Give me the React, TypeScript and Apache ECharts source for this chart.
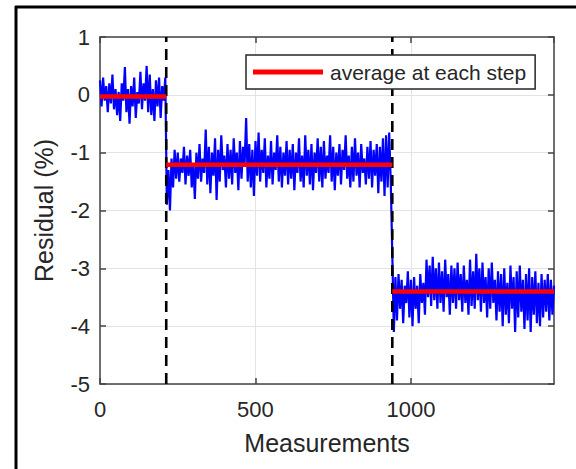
import React, { useEffect, useRef } from "react";
import * as echarts from "echarts";

// ---- data ----
const STEP = 5; // spacing of the sampled measurements
const SEG_STARTS = [0, 215, 940];
const SEG1 = [0.25, -0.2, 0.3, -0.1, 0.15, -0.3, 0.2, -0.15, 0.35, -0.25, 0.1, -0.35, 0.05, -0.45, 0.2, -0.1, 0.48, -0.3, 0.1, -0.5, 0.15, -0.2, 0.3, -0.4, 0.05, -0.15, 0.4, -0.25, 0.2, -0.1, 0.5, -0.3, 0.35, -0.35, 0.1, -0.45, 0.25, -0.2, 0.3, -0.4, 0.15, -0.1, 0.3];
const SEG2 = [
  -1.9, -1.3, -2.0, -1.1, -1.6, -0.95, -1.45, -1.0, -1.5, -1.1,
  -1.35, -0.9, -1.55, -1.05, -1.4, -0.95, -1.6, -1.2, -1.8, -1.0,
  -1.45, -0.85, -1.5, -1.1, -1.35, -0.6, -1.55, -0.9, -1.7, -1.0,
  -1.4, -0.75, -1.82, -0.95, -1.5, -0.7, -1.3, -1.05, -1.6, -0.85,
  -1.45, -0.95, -1.55, -0.75, -1.35, -1.0, -1.65, -0.8, -1.45, -0.9,
  -1.2, -0.4, -1.5, -0.85, -1.6, -0.95, -1.75, -0.8, -1.4, -0.65,
  -1.5, -0.95, -1.35, -0.75, -1.6, -1.05, -1.45, -0.8, -1.55, -1.0,
  -1.3, -0.7, -1.5, -0.9, -1.6, -1.0, -1.4, -0.8, -1.55, -0.95,
  -1.45, -0.85, -1.65, -1.0, -1.35, -0.75, -1.5, -1.05, -1.6, -0.7,
  -1.4, -0.95, -1.55, -0.85, -1.65, -1.0, -1.35, -0.75, -1.5, -0.9,
  -1.6, -0.8, -1.45, -1.05, -1.35, -0.7, -1.5, -0.9, -1.65, -1.0,
  -1.4, -0.85, -1.55, -0.95, -1.3, -0.7, -1.45, -1.05, -1.6, -0.9,
  -1.5, -0.75, -1.4, -1.0, -1.6, -0.85, -1.35, -1.1, -1.55, -0.9,
  -1.45, -0.8, -1.6, -0.95, -1.4, -0.85, -1.7, -0.9, -1.5, -0.75,
  -1.75, -0.7, -1.6, -0.65, -1.5,
];
const SEG3 = [
  -2.75, -4.1, -3.15, -3.9, -3.1, -3.7, -3.2, -3.95, -3.3, -3.6,
  -3.05, -3.85, -3.2, -4.0, -3.15, -3.7, -3.3, -3.95, -3.1, -3.6,
  -3.25, -3.8, -2.85, -3.5, -2.95, -3.65, -2.8, -3.55, -3.0, -3.7,
  -2.9, -3.6, -3.05, -3.75, -2.85, -3.5, -3.1, -3.8, -2.95, -3.6,
  -3.0, -3.7, -2.9, -3.55, -3.1, -3.75, -2.95, -3.6, -3.2, -3.8,
  -2.85, -3.65, -3.05, -3.7, -2.75, -3.55, -3.0, -3.75, -2.9, -3.6,
  -3.15, -3.85, -3.0, -3.7, -2.9, -3.6, -3.2, -3.9, -3.05, -3.75,
  -3.1, -4.0, -3.0, -3.8, -3.25, -3.95, -2.95, -3.7, -3.15, -4.1,
  -3.05, -3.85, -2.95, -3.75, -3.2, -4.05, -3.1, -3.9, -3.0, -4.1,
  -3.15, -3.8, -3.05, -3.95, -3.25, -4.0, -3.1, -3.85, -3.2, -3.75,
  -3.1, -3.9, -3.2, -3.8, -3.3,
];
const STEP_BOUNDS = [0, 213, 940, 1460]; // step change positions
const STEP_AVERAGES = [-0.03, -1.21, -3.4];
const X_TICKS = [0, 500, 1000];
const Y_TICKS = [-5, -4, -3, -2, -1, 0, 1];
const LEGEND_NAME = "average at each step";

const FONT = "'Liberation Sans', Arial, Helvetica, sans-serif";
const TXT = "#262626";

export default function App() {
  const ref = useRef<HTMLDivElement>(null);
  useEffect(() => {
    if (!ref.current) return;
    const chart = echarts.init(ref.current, undefined, { renderer: "svg" });

    const segs = [SEG1, SEG2, SEG3];
    const residual: any[] = [];
    segs.forEach((s, k) => s.forEach((v, i) => residual.push([SEG_STARTS[k] + i * STEP, v])));

    const avg: any[] = [];
    STEP_AVERAGES.forEach((a, k) => {
      avg.push([STEP_BOUNDS[k], a]);
      avg.push([STEP_BOUNDS[k + 1], a]);
      if (k < STEP_AVERAGES.length - 1) avg.push([STEP_BOUNDS[k + 1], "-"]);
    });

    const yMin = Y_TICKS[0];
    const yMax = Y_TICKS[Y_TICKS.length - 1];
    const dashed = STEP_BOUNDS.slice(1, 3).map((b) => ({
      type: "line",
      data: [[b, yMin], [b, yMax]],
      symbol: "none",
      lineStyle: { color: "#000", width: 2.6, type: [11, 7] },
      silent: true,
      z: 3,
    }));

    const mkLine = () => ({ show: true, onZero: false, lineStyle: { color: "#444", width: 1.5 } });
    const mkTick = () => ({ show: true, inside: true, length: 6, lineStyle: { color: "#444", width: 1.5 } });

    chart.setOption({
      animation: false,
      backgroundColor: "#fff",
      grid: { left: 100, right: 22, top: 37, bottom: 85, containLabel: false },
      legend: {
        data: [LEGEND_NAME],
        left: 246,
        top: 55,
        icon: "rect",
        itemWidth: 70,
        itemHeight: 5,
        padding: [5, 9, 5, 7],
        borderColor: "#262626",
        borderWidth: 1.5,
        backgroundColor: "#fff",
        selectedMode: false,
        textStyle: { fontSize: 21, color: TXT, fontFamily: FONT, lineHeight: 24, padding: [0, 0, 0, 2] },
      },
      xAxis: [
        {
          type: "value",
          min: 0,
          max: STEP_BOUNDS[3],
          interval: 500,
          name: "Measurements",
          nameLocation: "middle",
          nameGap: 46,
          nameTextStyle: { fontSize: 25, color: TXT, fontFamily: FONT },
          axisLine: mkLine(),
          axisTick: mkTick(),
          axisLabel: {
            fontSize: 22,
            color: TXT,
            fontFamily: FONT,
            margin: 14,
            showMaxLabel: false,
            formatter: (v: number) => (X_TICKS.includes(v) ? String(v) : ""),
          },
          splitLine: { show: true, lineStyle: { color: "#e3e3e3", width: 1 } },
        },
        {
          type: "value",
          position: "top",
          min: 0,
          max: STEP_BOUNDS[3],
          interval: 500,
          axisLine: mkLine(),
          axisTick: mkTick(),
          axisLabel: { show: false },
          splitLine: { show: false },
        },
      ],
      yAxis: [
        {
          type: "value",
          position: "left",
          min: yMin,
          max: yMax,
          interval: 1,
          name: "Residual (%)",
          nameLocation: "middle",
          nameGap: 44,
          nameTextStyle: { fontSize: 25, color: TXT, fontFamily: FONT },
          axisLine: mkLine(),
          axisTick: mkTick(),
          axisLabel: { fontSize: 22, color: TXT, fontFamily: FONT, margin: 10 },
          splitLine: { show: true, lineStyle: { color: "#e3e3e3", width: 1 } },
        },
        {
          type: "value",
          position: "right",
          min: yMin,
          max: yMax,
          interval: 1,
          axisLine: mkLine(),
          axisTick: mkTick(),
          axisLabel: { show: false },
          splitLine: { show: false },
        },
      ],
      series: [
        {
          name: "residual",
          type: "line",
          data: residual,
          symbol: "none",
          lineStyle: { color: "#0000ff", width: 2.2 },
          silent: true,
          z: 2,
        },
        ...dashed,
        {
          name: LEGEND_NAME,
          type: "line",
          data: avg,
          symbol: "none",
          connectNulls: false,
          itemStyle: { color: "#ff0000" },
          lineStyle: { color: "#ff0000", width: 4.5 },
          silent: true,
          z: 4,
        },
      ],
      graphic: [
        { type: "line", shape: { x1: 15, y1: 7, x2: 576, y2: 7 }, style: { stroke: "#000", lineWidth: 3 }, z: 10 },
        { type: "line", shape: { x1: 16, y1: 6, x2: 16, y2: 469 }, style: { stroke: "#000", lineWidth: 3 }, z: 10 },
      ],
    });
    return () => chart.dispose();
  }, []);
  return <div ref={ref} style={{ position: "fixed", left: 0, top: 0, width: 576, height: 469 }} />;
}
